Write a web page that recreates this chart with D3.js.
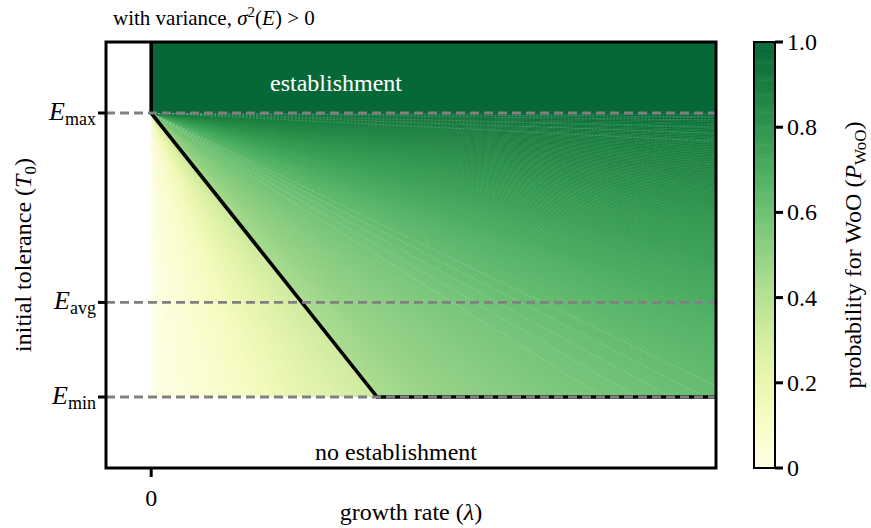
<!DOCTYPE html>
<html>
<head>
<meta charset="utf-8">
<script src="https://cdn.jsdelivr.net/npm/d3@7"></script>
<style>
  html, body { margin: 0; padding: 0; background: #fff; }
</style>
</head>
<body>
<svg id="chart" width="871" height="528"></svg>
<script>
// Threshold of deterministic establishment: line from (0, Emax) to (lambdaStar, Emin)
const lambdaStar = 0.4;

// Environment levels on the tolerance axis (Emin = 0, Emax = 1)
const envLevels = [0, 0.333, 1];
const envSubs = ["min", "avg", "max"];

// x ticks
const lambdaTicks = [0];
const lambdaTickLabels = ["0"];

// Colourbar ticks
const cbTicks = [0, 0.2, 0.4, 0.6, 0.8, 1.0];
const cbTickLabels = ["0", "0.2", "0.4", "0.6", "0.8", "1.0"];

// Probability along rays fanning out of (0, Emax); a ray is labelled by
// u = lambda / (Emax - T0). Below the threshold (u < lambdaStar):
const lowRayU = [0, 0.09, 0.18, 0.27, 0.36, 0.40];
const lowRayP = [0, 0.06, 0.13, 0.22, 0.30, 0.33];
// Above the threshold (u > lambdaStar):
const highRayU = [0.40, 0.50, 0.70, 1.0, 1.5, 2.0, 3.0, 4.5, 7.0, 15, 50];
const highRayP = [0.44, 0.50, 0.56, 0.63, 0.71, 0.76, 0.81, 0.85, 0.88, 0.92, 0.96];

// faint seams left between filled contour bands
const seamRayU = [0.80, 0.86, 0.92, 0.98, 1.04, 10, 14, 20, 40, 70];

const FONT = "Liberation Serif";
const svg = d3.select("#chart");

const x = d3.scaleLinear().domain([-0.08, 1]).range([106, 716]);
const y = d3.scaleLinear().domain([-0.25, 1.25]).range([468, 42]);
const colour = p => d3.interpolateYlGn(p * 0.87);

const lowScale = d3.scaleLinear().domain(lowRayU).range(lowRayP).clamp(true);
const highScale = d3.scaleLinear().domain(highRayU).range(highRayP).clamp(true);

// clip for the probability field
svg.append("clipPath").attr("id", "fieldClip")
  .append("rect")
  .attr("x", x(0)).attr("y", y(1))
  .attr("width", x(1) - x(0)).attr("height", y(0) - y(1));

const field = svg.append("g").attr("clip-path", "url(#fieldClip)");

// aspect factor between pixel slopes and data slopes
const kx = x(1) - x(0), ky = y(0) - y(1);
const uFromAngle = a => Math.tan(a) * ky / kx;
const angleFromU = u => Math.atan(u * kx / ky);

function rayEnd(u) {
  if (u > 1e6) return [1, 1];
  return u <= 1 ? [u, 0] : [1, 1 - 1 / u];
}
function wedge(u1, u2) {
  const pts = [[0, 1], rayEnd(u1)];
  if (u1 < 1 && u2 > 1) pts.push([1, 0]);
  pts.push(rayEnd(u2));
  return pts.map(p => [x(p[0]), y(p[1])]);
}

function fan(a0, a1, scale) {
  const n = Math.max(2, Math.round((a1 - a0) / 0.003));
  const step = (a1 - a0) / n;
  const data = d3.range(n).map(i => {
    const u1 = uFromAngle(a0 + i * step), u2 = uFromAngle(a0 + (i + 1) * step);
    const um = uFromAngle(a0 + (i + 0.5) * step);
    return { pts: wedge(u1, u2), p: scale(um) };
  });
  field.selectAll(null).data(data).enter().append("path")
    .attr("d", d => "M" + d.pts.join("L") + "Z")
    .attr("fill", d => colour(d.p))
    .attr("stroke", d => colour(d.p))
    .attr("stroke-width", 0.6);
}
const aStar = angleFromU(lambdaStar);
fan(0, aStar, lowScale);
fan(aStar, Math.PI / 2 - 1e-6, highScale);

// seams
field.selectAll(null).data(seamRayU).enter().append("line")
  .attr("x1", x(0)).attr("y1", y(1))
  .attr("x2", d => x(rayEnd(d)[0])).attr("y2", d => y(rayEnd(d)[1]))
  .attr("stroke", "#fff").attr("stroke-opacity", 0.3)
  .attr("stroke-width", 0.7).attr("stroke-dasharray", "2,1.5");

// establishment region above Emax
svg.append("rect")
  .attr("x", x(0)).attr("y", y(1.25))
  .attr("width", x(1) - x(0)).attr("height", y(1) - y(1.25))
  .attr("fill", colour(1));

// threshold line
const thresh = [[0, 1.25], [0, 1], [lambdaStar, 0], [1, 0]];
svg.append("path")
  .attr("d", d3.line().x(d => x(d[0])).y(d => y(d[1]))(thresh))
  .attr("fill", "none").attr("stroke", "#000").attr("stroke-width", 3.6)
  .attr("stroke-linejoin", "miter");

// dashed environment levels
svg.selectAll(null).data(envLevels).enter().append("line")
  .attr("x1", x(-0.08)).attr("x2", x(1))
  .attr("y1", d => y(d)).attr("y2", d => y(d))
  .attr("stroke", "#808080").attr("stroke-width", 2.8)
  .attr("stroke-dasharray", "9,5");

// frame
svg.append("rect")
  .attr("x", x(-0.08)).attr("y", y(1.25))
  .attr("width", x(1) - x(-0.08)).attr("height", y(-0.25) - y(1.25))
  .attr("fill", "none").attr("stroke", "#000").attr("stroke-width", 3);

// y ticks with E labels
svg.selectAll(null).data(envLevels).enter().append("line")
  .attr("x1", x(-0.08) - 8).attr("x2", x(-0.08))
  .attr("y1", d => y(d)).attr("y2", d => y(d))
  .attr("stroke", "#000").attr("stroke-width", 3);
const yl = svg.selectAll(null).data(envLevels).enter().append("text")
  .style("font-family", FONT)
  .attr("x", x(-0.08) - 10).attr("y", d => y(d) + 7)
  .attr("text-anchor", "end").attr("font-size", 26);
yl.append("tspan").style("font-style", "italic").text("E");
yl.append("tspan").attr("font-size", 18).attr("dy", 5).text((d, i) => envSubs[i]);

// x tick
svg.selectAll(null).data(lambdaTicks).enter().append("line")
  .attr("x1", d => x(d)).attr("x2", d => x(d))
  .attr("y1", y(-0.25)).attr("y2", y(-0.25) + 9)
  .attr("stroke", "#000").attr("stroke-width", 3);
svg.selectAll(null).data(lambdaTicks).enter().append("text")
  .style("font-family", FONT)
  .attr("x", d => x(d)).attr("y", 506)
  .attr("text-anchor", "middle").attr("font-size", 24)
  .text((d, i) => lambdaTickLabels[i]);

// axis labels
const xl = svg.append("text").style("font-family", FONT)
  .attr("x", (x(-0.08) + x(1)) / 2).attr("y", 520)
  .attr("text-anchor", "middle").attr("font-size", 24);
xl.append("tspan").text("growth rate (");
xl.append("tspan").style("font-style", "italic").text("λ");
xl.append("tspan").text(")");

const ylab = svg.append("text").style("font-family", FONT)
  .attr("transform", `translate(31,${(y(1.25) + y(-0.25)) / 2}) rotate(-90)`)
  .attr("text-anchor", "middle").attr("font-size", 24);
ylab.append("tspan").text("initial tolerance (");
ylab.append("tspan").style("font-style", "italic").text("T");
ylab.append("tspan").attr("font-size", 17).attr("dy", 5).text("0");
ylab.append("tspan").attr("dy", -5).text(")");

// title
const title = svg.append("text").style("font-family", FONT)
  .attr("x", 113).attr("y", 25).attr("font-size", 21);
title.append("tspan").text("with variance, ");
title.append("tspan").style("font-style", "italic").text("σ");
title.append("tspan").attr("font-size", 15).attr("dy", -8).text("2");
title.append("tspan").attr("dy", 8).text("(");
title.append("tspan").style("font-style", "italic").text("E");
title.append("tspan").text(")  >  0");

// region annotations
svg.append("text").style("font-family", FONT).attr("x", 336).attr("y", 91).attr("text-anchor", "middle")
  .attr("font-size", 24).attr("fill", "#fff").text("establishment");
svg.append("text").style("font-family", FONT).attr("x", 396).attr("y", 460).attr("text-anchor", "middle")
  .attr("font-size", 24).attr("fill", "#000").text("no establishment");

// colourbar
const cbX = 754, cbW = 21;
const cy = d3.scaleLinear().domain([0, 1]).range([468, 42]);
const cbSteps = d3.range(0, 1, 1 / 200);
svg.selectAll(null).data(cbSteps).enter().append("rect")
  .attr("x", cbX).attr("width", cbW)
  .attr("y", d => cy(d + 1 / 200)).attr("height", d => cy(d) - cy(d + 1 / 200) + 0.5)
  .attr("fill", d => colour(d + 0.5 / 200));
svg.append("rect").attr("x", cbX).attr("y", cy(1)).attr("width", cbW)
  .attr("height", cy(0) - cy(1)).attr("fill", "none")
  .attr("stroke", "#000").attr("stroke-width", 2);
svg.selectAll(null).data(cbTicks).enter().append("line")
  .attr("x1", cbX + cbW).attr("x2", cbX + cbW + 8)
  .attr("y1", d => cy(d)).attr("y2", d => cy(d))
  .attr("stroke", "#000").attr("stroke-width", 3);
svg.selectAll(null).data(cbTicks).enter().append("text")
  .style("font-family", FONT)
  .attr("x", cbX + cbW + 12).attr("y", d => cy(d) + 8)
  .attr("font-size", 24).text((d, i) => cbTickLabels[i]);

const cbl = svg.append("text").style("font-family", FONT)
  .attr("transform", `translate(861,${(cy(0) + cy(1)) / 2}) rotate(-90)`)
  .attr("text-anchor", "middle").attr("font-size", 24);
cbl.append("tspan").text("probability for WoO (");
cbl.append("tspan").style("font-style", "italic").text("P");
cbl.append("tspan").attr("font-size", 17).attr("dy", 5).text("WoO");
cbl.append("tspan").attr("dy", -5).text(")");
</script>
</body>
</html>
